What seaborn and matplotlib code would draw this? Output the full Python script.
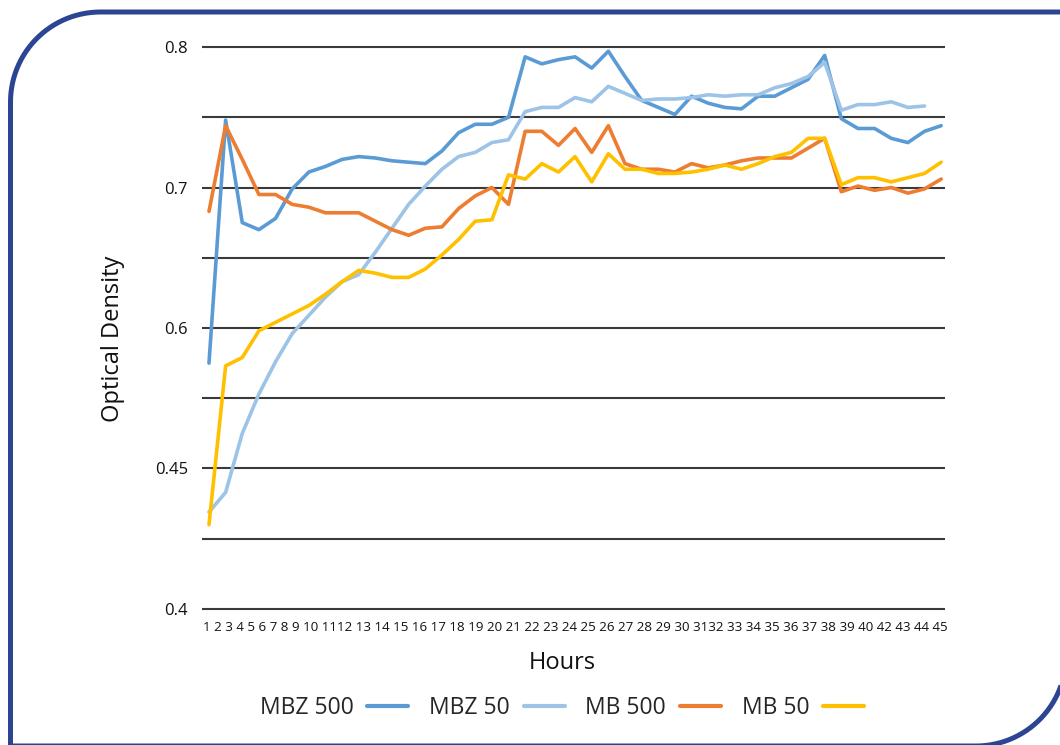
import numpy as np
import pandas as pd
import seaborn as sns
import matplotlib.pyplot as plt
from matplotlib.lines import Line2D
from matplotlib.patches import Polygon
from matplotlib.transforms import Affine2D
from matplotlib.ticker import MultipleLocator

# === data ===
hours = list(range(1, 46))

mbz_500 = [0.575, 0.748, 0.675, 0.670, 0.678, 0.699, 0.711, 0.715, 0.720, 0.722,
           0.721, 0.719, 0.718, 0.717, 0.726, 0.739, 0.745, 0.745, 0.750, 0.793,
           0.788, 0.791, 0.793, 0.785, 0.797, 0.779, 0.762, 0.757, 0.752, 0.765,
           0.760, 0.757, 0.756, 0.765, 0.765, 0.771, 0.777, 0.794, 0.749, 0.742,
           0.742, 0.735, 0.732, 0.740, 0.744]
mbz_50 = [0.469, 0.483, 0.525, 0.553, 0.576, 0.596, 0.609, 0.622, 0.633, 0.638,
          0.654, 0.671, 0.688, 0.701, 0.713, 0.722, 0.725, 0.732, 0.734, 0.754,
          0.757, 0.757, 0.764, 0.761, 0.772, 0.767, 0.762, 0.763, 0.763, 0.764,
          0.766, 0.765, 0.766, 0.766, 0.771, 0.774, 0.779, 0.789, 0.755, 0.759,
          0.759, 0.761, 0.757, 0.758, np.nan]
mb_500 = [0.683, 0.744, 0.720, 0.695, 0.695, 0.688, 0.686, 0.682, 0.682, 0.682,
          0.676, 0.670, 0.666, 0.671, 0.672, 0.685, 0.694, 0.700, 0.688, 0.740,
          0.740, 0.730, 0.742, 0.725, 0.744, 0.717, 0.713, 0.713, 0.711, 0.717,
          0.714, 0.716, 0.719, 0.721, 0.721, 0.721, 0.728, 0.735, 0.697, 0.701,
          0.698, 0.700, 0.696, 0.699, 0.706]
mb_50 = [0.460, 0.573, 0.579, 0.598, 0.604, 0.610, 0.616, 0.624, 0.633, 0.641,
         0.639, 0.636, 0.636, 0.642, 0.652, 0.663, 0.676, 0.677, 0.709, 0.706,
         0.717, 0.711, 0.722, 0.704, 0.724, 0.713, 0.713, 0.710, 0.710, 0.711,
         0.713, 0.716, 0.713, 0.717, 0.722, 0.725, 0.735, 0.735, 0.702, 0.707,
         0.707, 0.704, 0.707, 0.710, 0.718]

series_names = ["MBZ 500", "MBZ 50", "MB 500", "MB 50"]
series_colors = ["#5B9BD5", "#9DC3E6", "#ED7D31", "#FFC000"]

hour_labels = ["1", "2", "3", "4", "5", "6", "7", "8", "9", "10", "1112", "13",
               "14", "15", "16", "17", "18", "19", "20", "21", "22", "23", "24",
               "25", "26", "27", "28", "29", "30", "3132", "33", "34", "35", "36",
               "37", "38", "39", "40", "42", "43", "44", "45"]

y_ticks = [0.4, 0.5, 0.6, 0.7, 0.8]
y_tick_labels = ["0.4", "0.45", "0.6", "0.7", "0.8"]

df = pd.DataFrame({
    "hour": hours * 4,
    "od": mbz_500 + mbz_50 + mb_500 + mb_50,
    "series": np.repeat(series_names, len(hours)),
})

sns.set_style("white")
plt.rcParams["font.family"] = ["Open Sans", "DejaVu Sans"]

W, H = 1060, 745
fig, ax = plt.subplots(figsize=(W / 100, H / 100), dpi=100)
fig.subplots_adjust(left=202 / W, right=945 / W, top=1 - 44.2 / H, bottom=1 - 611.8 / H)

sns.lineplot(data=df, x="hour", y="od", hue="series", hue_order=series_names,
             palette=series_colors, linewidth=2.6, ax=ax, legend=False)

ax.set_xlim(0.58, 45.23)
ax.set_ylim(0.398, 0.802)
ax.set_yticks(y_ticks, y_tick_labels)
ax.yaxis.set_minor_locator(MultipleLocator(0.05))
ax.grid(axis="y", which="both", color="#3a3a3a", linewidth=1.5)
ax.set_axisbelow(True)
ax.tick_params(axis="y", which="both", length=0, pad=10, labelsize=12, labelcolor="#111111")
ax.set_xticks([])
ax.set_xlabel("")
ax.set_ylabel("")
for s in ax.spines.values():
    s.set_visible(False)

# hour labels as one run of text under the axis
tick_txt = fig.text(203 / W, 1 - 631 / H, " ".join(hour_labels), ha="left",
                    va="baseline", fontsize=8, color="#111111")
fig.canvas.draw()
w_now = tick_txt.get_window_extent().width
tick_txt.set_fontsize(8 * (948 - 203) / w_now)

fig.text(562 / W, 1 - 669 / H, "Hours", ha="center", va="baseline", fontsize=17, color="#111111")
fig.text(113 / W, 1 - 339 / H, "Optical Density", ha="center", va="center",
         rotation=90, fontsize=17, color="#111111")

handles = [Line2D([], [], color=c, linewidth=3) for c in series_colors]
fig.legend(handles, series_names, loc="center", bbox_to_anchor=(562 / W, 1 - 708 / H),
           ncol=4, frameon=False, markerfirst=False, fontsize=16.5,
           handlelength=1.8, handletextpad=0.6, columnspacing=0.9)

# frame: rectangle with top-left and bottom-right corners rounded (pixel units, y up)
x0, x1, yb, yt, r = 10.5, 1066, -1.0, 733, 90
t_tl = np.linspace(np.pi, np.pi / 2, 30)
t_br = np.linspace(0, -np.pi / 2, 30)
arc_tl = np.column_stack([x0 + r + r * np.cos(t_tl), yt - r + r * np.sin(t_tl)])
arc_br = np.column_stack([x1 - r + r * np.cos(t_br), yb + r + r * np.sin(t_br)])
outline = np.vstack([[[x1, yt]], arc_br, [[x0, yb]], arc_tl])
frame = Polygon(outline, closed=True, fill=False, edgecolor="#2B4593", linewidth=3.6,
                transform=Affine2D().scale(1 / 100) + fig.dpi_scale_trans)
fig.add_artist(frame)

plt.savefig("out.png", dpi=100)
plt.close()
